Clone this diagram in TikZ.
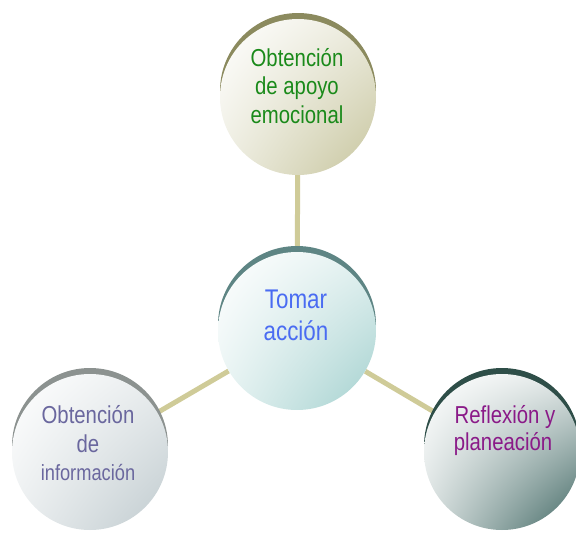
\documentclass[tikz,border=0pt]{standalone}
\usepackage{fontspec}
\setmainfont[FakeStretch=0.83]{Liberation Sans}
\usetikzlibrary{backgrounds,shadings}
\definecolor{conncol}{HTML}{CFCB98}
\definecolor{topdark}{HTML}{8B8A5E}
\definecolor{toplight}{HTML}{C6C49C}
\definecolor{ctrdark}{HTML}{5E8584}
\definecolor{ctrlight}{HTML}{A2D0CE}
\definecolor{lftdark}{HTML}{8C9290}
\definecolor{lftlight}{HTML}{BFCACE}
\definecolor{rgtdark}{HTML}{2E4E48}
\definecolor{rgtlight}{HTML}{3F6662}
\definecolor{txtgreen}{HTML}{1A8A1A}
\definecolor{txtblue}{HTML}{4A6CF2}
\definecolor{txtslate}{HTML}{6A679E}
\definecolor{txtpurple}{HTML}{8A1A88}
\tikzset{
  ball/.style={circle, minimum size=156pt, inner sep=0pt, shade},
  conn/.style={draw=conncol, line width=5pt},
  lbl/.style={inner sep=0pt, anchor=base, font=\fontsize{24.5}{28.5}\selectfont}
}
\begin{document}
\begin{tikzpicture}[x=1pt,y=-1pt]
\useasboundingbox (0,0) rectangle (576,533);
% crescents
\fill[topdark] (298,91) circle (78pt);
\fill[ctrdark] (297,325) circle (79pt);
\fill[lftdark] (90,446) circle (78pt);
\fill[rgtdark] (502,446) circle (78pt);
% balls
\node[ball, upper left=white, upper right=toplight!35, lower left=toplight!30, lower right=toplight] (top) at (298,97) {};
\node[ball, minimum size=158pt, upper left=white, upper right=ctrlight!30, lower left=ctrlight!25, lower right=ctrlight] (ctr) at (297,331) {};
\node[ball, upper left=white, upper right=lftlight!35, lower left=lftlight!30, lower right=lftlight] (lft) at (90,452) {};
\node[ball, upper left=white, upper right=rgtlight!15, lower left=rgtlight!20, lower right=rgtlight] (rgt) at (502,452) {};
% connectors
\begin{pgfonlayer}{background}
\draw[conn] (top) -- (ctr);
\draw[conn] (ctr) -- (lft);
\draw[conn] (ctr) -- (rgt);
\end{pgfonlayer}
% labels
\node[lbl, text=txtgreen] (top1) at (297,66) {Obtención};
\node[lbl, text=txtgreen] (top2) at (297,94.5) {de apoyo};
\node[lbl, text=txtgreen] (top3) at (297,123) {emocional};
\node[lbl, text=txtblue, font=\fontsize{27}{32}\selectfont] (ctr1) at (296,308) {Tomar};
\node[lbl, text=txtblue, font=\fontsize{27}{32}\selectfont] (ctr2) at (296,340) {acción};
\node[lbl, text=txtslate] (lft1) at (88,423) {Obtención};
\node[lbl, text=txtslate] (lft2) at (88,452) {de};
\node[lbl, text=txtslate, font=\fontsize{22}{26}\selectfont] (lft3) at (88,480) {información};
\node[lbl, text=txtpurple] (rgt1) at (505,423) {Reflexión y};
\node[lbl, text=txtpurple] (rgt2) at (503,450) {planeación};
\end{tikzpicture}
\end{document}
